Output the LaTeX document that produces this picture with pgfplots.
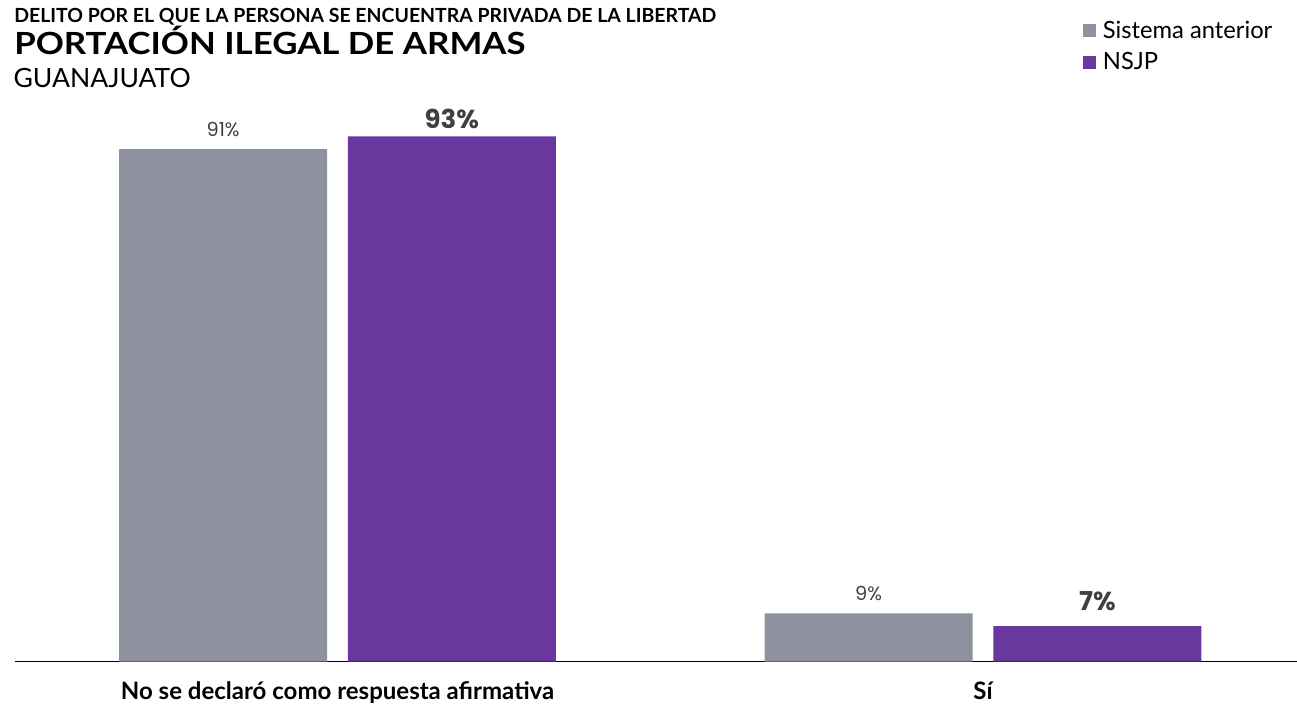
\documentclass[border=0pt]{standalone}
\usepackage{pgfplots}
\pgfplotsset{compat=1.18}
\usepackage{fontspec}
\setmainfont{Lato}
\newfontfamily\valfont{Poppins}[Numbers=Monospaced]
\definecolor{grisS}{HTML}{8E929E}
\definecolor{moradoN}{HTML}{68389F}
\definecolor{txtval}{HTML}{404040}
\begin{document}
\begin{tikzpicture}
\useasboundingbox (0pt,0pt) rectangle (972.75pt,528pt);
\node[anchor=base west,inner sep=0] at (10.5pt,510.75pt) {\fontsize{14.6}{15}\selectfont\bfseries DELITO POR EL QUE LA PERSONA SE ENCUENTRA PRIVADA DE LA LIBERTAD};
\node[anchor=base west,inner sep=0] at (10.5pt,486.75pt) {\scalebox{1.14}[1]{\fontsize{22.9}{23}\selectfont\bfseries PORTACIÓN ILEGAL DE ARMAS}};
\node[anchor=base west,inner sep=0] at (10pt,462pt) {\fontsize{19.9}{21}\selectfont GUANAJUATO};
\begin{axis}[
  at={(11.025pt,31.875pt)}, anchor=south west,
  scale only axis,
  width=961.7pt, height=420.4pt,
  xmin=-0.5001, xmax=1.4864,
  ymin=0, ymax=100,
  ybar=15.6pt, bar width=156pt,
  axis x line=bottom, axis y line=none,
  x axis line style={-, black, line width=1.2pt},
  xtick={0,1},
  xticklabels={No se declaró como respuesta afirmativa, Sí},
  major tick length=0pt,
  xticklabel style={font=\fontsize{18}{19}\selectfont\bfseries, yshift=-11.5pt},
  ytick=\empty,
  clip=false,
  point meta=explicit symbolic,
  nodes near coords,
  legend style={at={(0.8331,1.1475)}, anchor=north west, draw=none, fill=none,
    font=\fontsize{17.8}{18}\selectfont, row sep=5pt, inner sep=0pt,
    cells={anchor=west}},
  legend cell align=left,
  legend image code/.code={\fill[#1] (0pt,-4.9pt) rectangle (9.75pt,4.85pt);},
  legend style={/tikz/every even column/.append style={column sep=0pt}},
]
\addplot[fill=grisS, draw=none,
  nodes near coords style={font=\valfont\fontsize{14.5}{15}\selectfont, text=txtval, yshift=6pt}]
  coordinates {(0,91.4) [91\%] (1,8.6) [9\%]};
\addplot[fill=moradoN, draw=none,
  nodes near coords style={font=\valfont\fontsize{19.5}{20}\selectfont\bfseries, text=txtval, yshift=2pt}]
  coordinates {(0,93.7) [93\%] (1,6.3) [\raisebox{6pt}{7\%}]};
\legend{\hspace{3pt}Sistema anterior, \hspace{3pt}NSJP}
\end{axis}
\end{tikzpicture}
\end{document}
